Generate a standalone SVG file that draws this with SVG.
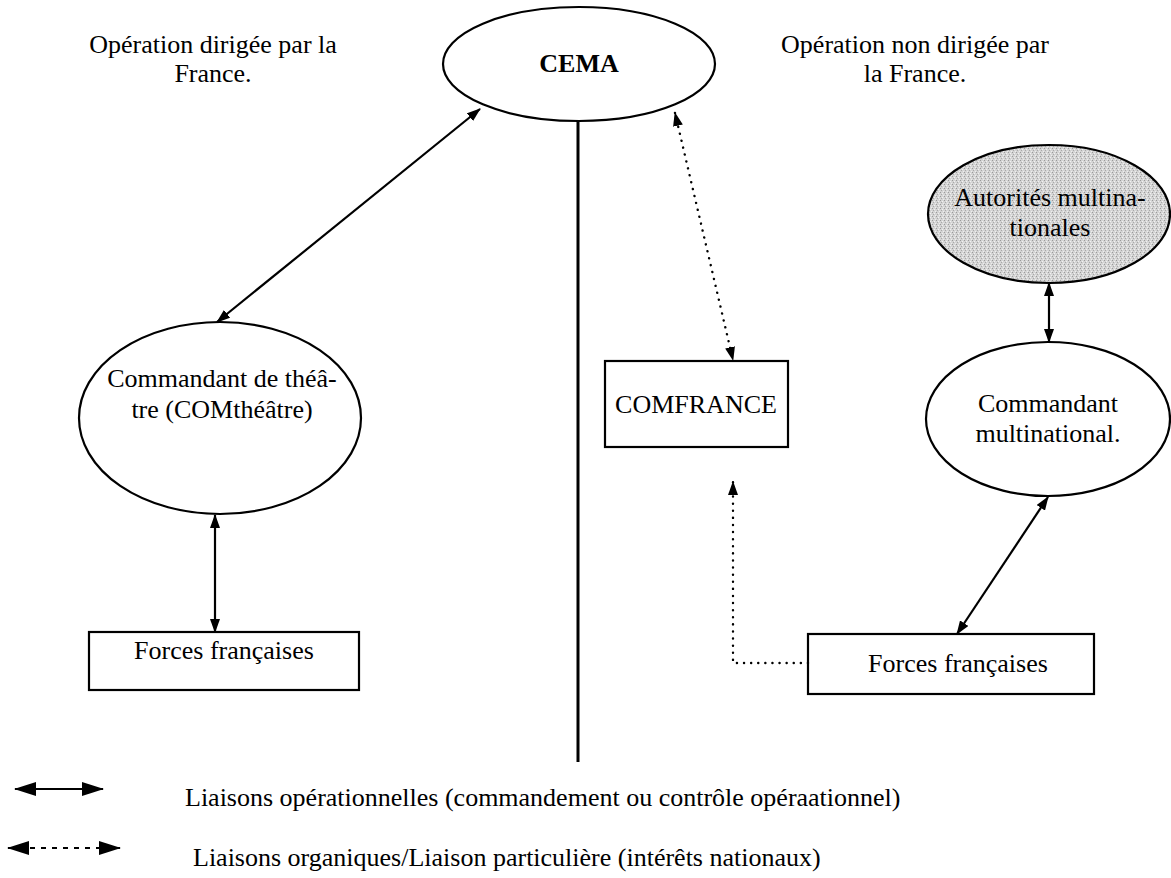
<svg xmlns="http://www.w3.org/2000/svg" width="1171" height="878" viewBox="0 0 1171 878">
<style>
text{font-family:"Liberation Serif","Times New Roman",serif;font-size:26px;fill:#000;text-anchor:middle}
.shape{fill:#fff;stroke:#000;stroke-width:2.2}
.solid{stroke:#000;stroke-width:2.2;fill:none}
.dot{stroke:#000;stroke-width:2.4;fill:none;stroke-dasharray:0.1 7;stroke-linecap:round}
.dash{stroke:#000;stroke-width:2;fill:none;stroke-dasharray:5 6}
</style>
<defs>
<marker id="ah" viewBox="0 0 14 10" refX="13" refY="5" markerWidth="14" markerHeight="10" markerUnits="userSpaceOnUse" orient="auto-start-reverse">
<path d="M0,0 L14,5 L0,10 Z" fill="#000"/>
</marker>
<marker id="lh" viewBox="0 0 22 14" refX="21" refY="7" markerWidth="22" markerHeight="14" markerUnits="userSpaceOnUse" orient="auto-start-reverse">
<path d="M0,0 L22,7 L0,14 Z" fill="#000"/>
</marker>
<pattern id="stip" width="4" height="4" patternUnits="userSpaceOnUse">
<rect width="4" height="4" fill="#d4d4d4"/>
<rect x="0" y="0" width="1" height="1" fill="#9a9a9a"/>
<rect x="2" y="1" width="1" height="1" fill="#f2f2f2"/>
<rect x="1" y="2" width="1" height="1" fill="#a8a8a8"/>
<rect x="3" y="3" width="1" height="1" fill="#eeeeee"/>
</pattern>
</defs>

<g id="label-left">
<text x="213" y="53">Opération dirigée par la</text>
<text x="213" y="82">France.</text>
</g>
<g id="label-right">
<text x="915" y="53">Opération non dirigée par</text>
<text x="915" y="82">la France.</text>
</g>

<g id="divider">
<line x1="578" y1="122" x2="578" y2="762" stroke="#000" stroke-width="3"/>
</g>

<g id="cema">
<ellipse class="shape" cx="579" cy="64" rx="136" ry="57"/>
<text x="579" y="72" font-weight="bold">CEMA</text>
</g>

<g id="com-theatre">
<ellipse class="shape" cx="220" cy="418" rx="141" ry="96"/>
<text x="222" y="387">Commandant de théâ-</text>
<text x="222" y="418">tre (COMthéâtre)</text>
</g>

<g id="forces-left">
<rect class="shape" x="89" y="632" width="270" height="58"/>
<text x="224" y="659">Forces françaises</text>
</g>

<g id="comfrance">
<rect class="shape" x="605" y="361" width="183" height="86"/>
<text x="696" y="413">COMFRANCE</text>
</g>

<g id="autorites">
<ellipse cx="1049" cy="214" rx="121" ry="69" fill="url(#stip)" stroke="#000" stroke-width="2.2"/>
<text x="1050" y="206">Autorités multina-</text>
<text x="1050" y="236">tionales</text>
</g>

<g id="com-multinational">
<ellipse class="shape" cx="1048" cy="419" rx="122" ry="77"/>
<text x="1048" y="412">Commandant</text>
<text x="1048" y="442">multinational.</text>
</g>

<g id="forces-right">
<rect class="shape" x="808" y="634" width="286" height="60"/>
<text x="958" y="672">Forces françaises</text>
</g>

<g id="connectors">
<line class="solid" x1="480" y1="109" x2="217" y2="322" marker-start="url(#ah)" marker-end="url(#ah)"/>
<line class="solid" x1="215" y1="515" x2="215" y2="632" marker-start="url(#ah)" marker-end="url(#ah)"/>
<line class="dot" x1="675" y1="113" x2="733" y2="360" marker-start="url(#ah)" marker-end="url(#ah)"/>
<polyline class="dot" points="808,663 733,663 733,482" marker-end="url(#ah)"/>
<line class="solid" x1="1049" y1="283" x2="1049" y2="342" marker-start="url(#ah)" marker-end="url(#ah)"/>
<line class="solid" x1="1048" y1="497" x2="957" y2="634" marker-start="url(#ah)" marker-end="url(#ah)"/>
</g>

<g id="legend">
<line class="solid" x1="15" y1="789" x2="103" y2="789" marker-start="url(#lh)" marker-end="url(#lh)"/>
<text x="185" y="806" style="text-anchor:start">Liaisons opérationnelles (commandement ou contrôle opéraationnel)</text>
<line class="dash" x1="8" y1="848" x2="120" y2="848" marker-start="url(#lh)" marker-end="url(#lh)"/>
<text x="193" y="866" style="text-anchor:start">Liaisons organiques/Liaison particulière (intérêts nationaux)</text>
</g>
</svg>
